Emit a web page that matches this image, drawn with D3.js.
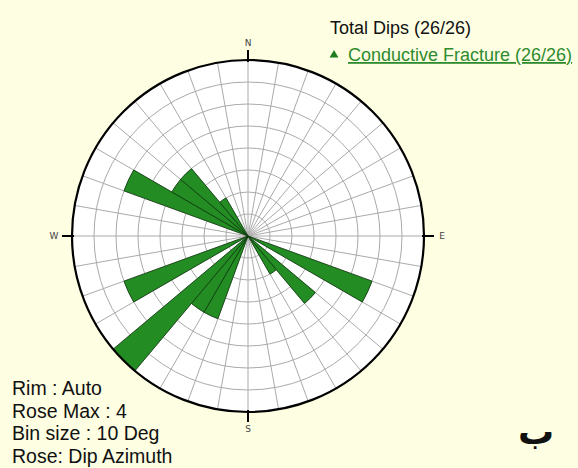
<!DOCTYPE html>
<html><head><meta charset="utf-8">
<script src="https://cdn.jsdelivr.net/npm/d3@7"></script>
<style>
html,body{margin:0;padding:0;background:#fefee2;}
svg{display:block;}
</style></head>
<body>
<script>
// Data: dip azimuth bins (start degree, 10-degree bins) and counts
const binStarts = [110, 130, 140, 200, 210, 220, 240, 290, 300, 310, 320];
const counts    = [3,   2,   1,   2,   2,   4,   3,   3,   2,   2,   1];
const binSize = 10;
const roseMax = 4;
const ringValues = [0.5, 1, 1.5, 2, 2.5, 3, 3.5];
const spokeAngles = d3.range(0, 360, 10);
const compass = [{t:"N", a:0}, {t:"E", a:90}, {t:"S", a:180}, {t:"W", a:270}];
const legendTitle = "Total Dips (26/26)";
const legendItem = "Conductive Fracture (26/26)";
const infoLines = ["Rim : Auto", "Rose Max : 4", "Bin size : 10 Deg", "Rose: Dip Azimuth"];

const W = 578, H = 468;
const cx = 248, cy = 236, R = 176;

const svg = d3.select("body").append("svg").attr("width", W).attr("height", H);
svg.append("rect").attr("width", W).attr("height", H).attr("fill", "#fefee2");

const r = d3.scaleLinear().domain([0, roseMax]).range([0, R]);
const g = svg.append("g").attr("transform", `translate(${cx},${cy})`);

g.append("circle").attr("r", R).attr("fill", "#ffffff");

// rings
g.selectAll("circle.ring").data(ringValues).join("circle")
  .attr("class", "ring").attr("r", d => r(d))
  .attr("fill", "none").attr("stroke", "#aaaaaa").attr("stroke-width", 1);

// spokes
const rad = a => a * Math.PI / 180;
g.selectAll("line.spoke").data(spokeAngles).join("line")
  .attr("x1", 0).attr("y1", 0)
  .attr("x2", d => Math.sin(rad(d)) * R)
  .attr("y2", d => -Math.cos(rad(d)) * R)
  .attr("stroke", "#aaaaaa").attr("stroke-width", 1);

// bars
const arc = d3.arc().innerRadius(0);
g.selectAll("path.bar").data(binStarts.map((b, i) => ({b, c: counts[i]}))).join("path")
  .attr("class", "bar")
  .attr("d", d => arc({startAngle: rad(d.b), endAngle: rad(d.b + binSize), outerRadius: r(d.c)}))
  .attr("fill", "#238c23").attr("stroke", "#0d3a0d").attr("stroke-width", 0.8);

// rim
g.append("circle").attr("r", R).attr("fill", "none").attr("stroke", "#000").attr("stroke-width", 2.2);

// compass ticks and labels
compass.forEach(c => {
  const s = Math.sin(rad(c.a)), co = -Math.cos(rad(c.a));
  g.append("line")
    .attr("x1", s * (R - 2)).attr("y1", co * (R - 2))
    .attr("x2", s * (R + 10)).attr("y2", co * (R + 10))
    .attr("stroke", "#000").attr("stroke-width", 2);
  g.append("text")
    .attr("x", s * (R + 18)).attr("y", co * (R + 17))
    .attr("text-anchor", "middle").attr("dominant-baseline", "central")
    .attr("font-family", "DejaVu Sans, sans-serif").attr("font-size", 9)
    .attr("fill", "#444").text(c.t);
});

// legend
svg.append("text").attr("x", 330).attr("y", 34)
  .attr("font-family", "Liberation Sans, Arial, sans-serif").attr("font-size", 18)
  .attr("fill", "#111").text(legendTitle);
svg.append("path").attr("d", d3.symbol(d3.symbolTriangle, 34)())
  .attr("transform", "translate(334,55)").attr("fill", "#1e7d1e");
svg.append("text").attr("x", 348).attr("y", 61)
  .attr("font-family", "Liberation Sans, Arial, sans-serif").attr("font-size", 18)
  .attr("fill", "#2e8b2e").attr("text-decoration", "underline").text(legendItem);

// info lines
svg.selectAll("text.info").data(infoLines).join("text")
  .attr("class", "info").attr("x", 12).attr("y", (d, i) => 395 + i * 22.5)
  .attr("font-family", "Liberation Sans, Arial, sans-serif").attr("font-size", 19.5)
  .attr("fill", "#111").text(d => d);

// Arabic letter
svg.append("text").attr("x", 536).attr("y", 444).attr("text-anchor", "middle")
  .attr("font-family", "DejaVu Sans, sans-serif").attr("font-size", 36).attr("font-weight", "bold")
  .attr("fill", "#111").text("ب");
</script>
</body></html>
